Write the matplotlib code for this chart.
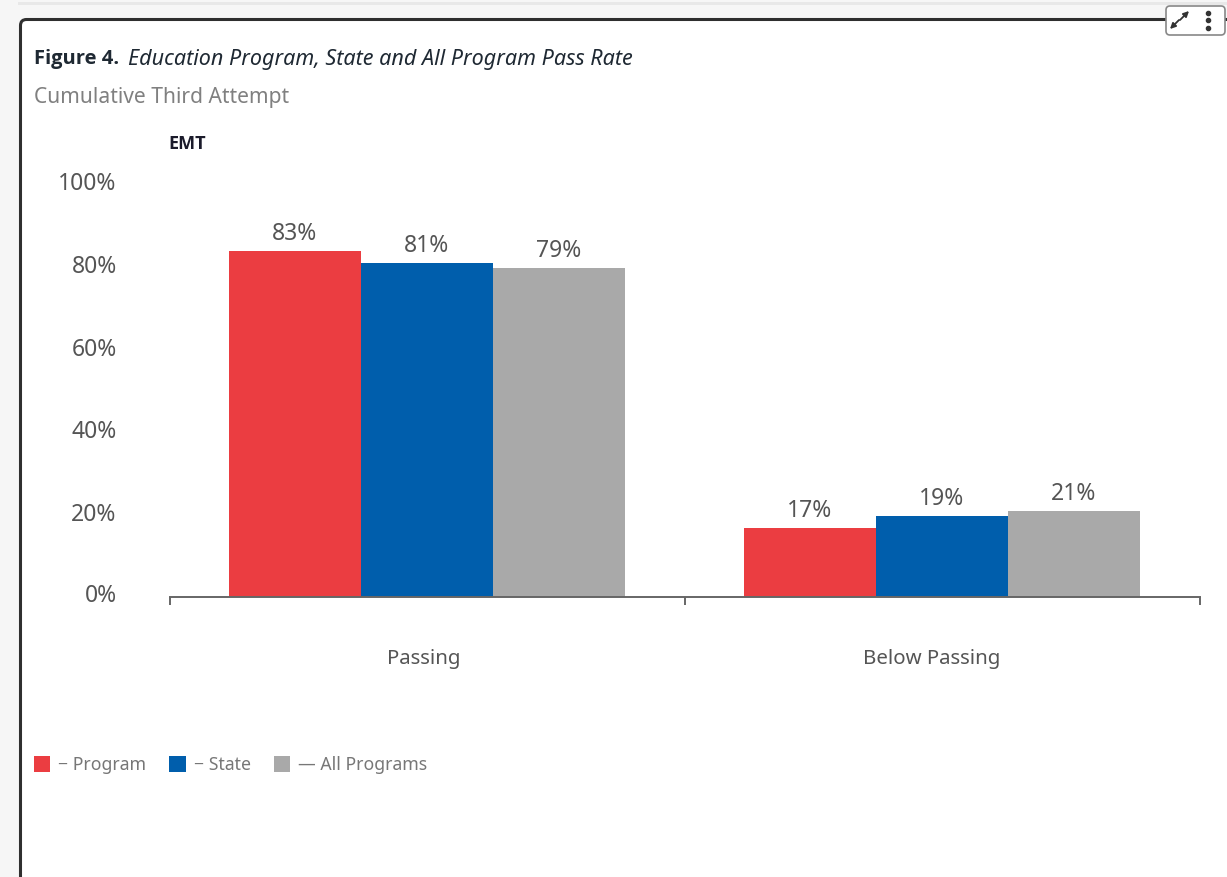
import matplotlib
matplotlib.use("Agg")
import matplotlib.pyplot as plt
from matplotlib.patches import FancyBboxPatch, Rectangle, Patch
from matplotlib.transforms import ScaledTranslation
import numpy as np

categories = ["Passing", "Below Passing"]
series_names = ["− Program", "− State", "— All Programs"]
program = [83.4, 16.6]
state = [80.5, 19.5]
all_programs = [79.3, 20.7]
program_labels = ["83%", "17%"]
state_labels = ["81%", "19%"]
all_labels = ["79%", "21%"]
y_ticks = [0, 20, 40, 60, 80, 100]
y_tick_labels = ["0%", "20%", "40%", "60%", "80%", "100%"]

W, H = 1227, 877
plt.rcParams["font.family"] = ["Noto Sans", "DejaVu Sans"]
fig = plt.figure(figsize=(W / 100, H / 100), dpi=100, facecolor="#f6f6f6")

def fx(x): return x / W
def fy(y): return 1 - y / H

# page furniture
fig.add_artist(Rectangle((fx(18), fy(5)), fx(1209), 3 / H, transform=fig.transFigure,
                         facecolor="#e8e8e8", edgecolor="none", zorder=-2))
fig.add_artist(FancyBboxPatch((20.5, H - 900), 1240, 900 - 19.5, boxstyle="round,pad=0,rounding_size=6",
                              transform=None, facecolor="white", edgecolor="#2f2f2f", linewidth=2.2, zorder=-1))

ax = fig.add_axes([fx(170), fy(597), fx(1030), (597 - 182) / H])
ax.patch.set_alpha(0)
x = np.arange(len(categories))
w = 132 / 515
colors = ["#EB3D41", "#005EAC", "#A9A9A9"]
text_c = "#555555"
for off, vals, labs, c in zip([-1, 0, 1], [program, state, all_programs],
                              [program_labels, state_labels, all_labels], colors):
    b = ax.bar(x + off * w, vals, w, color=c, linewidth=0)
    ax.bar_label(b, labels=labs, padding=3.6, fontsize=16.5, color=text_c)

ax.set_xlim(-0.499, 1.501)
ax.set_ylim(0, 100)
for s in ("top", "left", "right"):
    ax.spines[s].set_visible(False)
ax.spines["bottom"].set_color("#666666")
ax.spines["bottom"].set_linewidth(1.4)
ax.set_xticks([-0.499, 0.501, 1.501], ["", "", ""])
ax.tick_params(axis="x", which="major", length=6, width=1.4, color="#666666")
ax.set_xticks(x, categories, minor=True)
ax.tick_params(axis="x", which="minor", length=0, pad=37.7, labelsize=14.7, labelcolor=text_c)
for lab, dx in zip(ax.get_xticklabels(minor=True), [-3, -10]):
    lab.set_transform(lab.get_transform() + ScaledTranslation(dx / 100, 0, fig.dpi_scale_trans))
ax.set_yticks(y_ticks, y_tick_labels)
ax.tick_params(axis="y", length=0, pad=38.4, labelsize=16.5, labelcolor=text_c)
for lab, dy in zip(ax.get_yticklabels(), [4, 2, 2, 1, 1, 1]):
    lab.set_transform(lab.get_transform() + ScaledTranslation(0, dy / 100, fig.dpi_scale_trans))

# titles
fig.text(fx(34), fy(59), "Figure 4.", fontsize=14.5, fontweight="bold", family="Open Sans", color="#1f2933", va="center")
fig.text(fx(128), fy(59), "Education Program, State and All Program Pass Rate", fontsize=15.5,
         fontstyle="italic", color="#1f2933", va="center")
fig.text(fx(34), fy(98), "Cumulative Third Attempt", fontsize=15.1, color="#808080", va="center")
fig.text(fx(187), fy(144), "EMT", fontsize=13, fontweight="bold", family="Open Sans", color="#1b1b2b", va="center", ha="center")

# legend
handles = [Patch(facecolor=c, edgecolor="none") for c in colors]
fig.legend(handles, series_names, loc="center left", bbox_to_anchor=(fx(34), fy(765)), ncol=3,
           frameon=False, fontsize=12.7, labelcolor="#777777", borderpad=0, borderaxespad=0,
           handlelength=0.92, handleheight=1.05, handletextpad=0.45, columnspacing=1.32)

# widget
fig.add_artist(FancyBboxPatch((1166, H - 35), 59, 29, boxstyle="round,pad=0,rounding_size=4", transform=None,
                              facecolor="white", edgecolor="#888888", linewidth=1.2, zorder=5))
ov = fig.add_axes([0, 0, 1, 1], zorder=6)
ov.set_xlim(0, W); ov.set_ylim(H, 0); ov.axis("off")
ov.annotate("", xy=(1189, 11), xytext=(1180, 20), arrowprops=dict(arrowstyle="-|>", color="#333333", lw=1.3, mutation_scale=8, shrinkA=0, shrinkB=0))
ov.annotate("", xy=(1170, 29), xytext=(1179, 20), arrowprops=dict(arrowstyle="-|>", color="#333333", lw=1.3, mutation_scale=8, shrinkA=0, shrinkB=0))
ov.plot([1208] * 3, [13, 20, 28], ls="none", marker="o", ms=3, color="#333333")

fig.savefig("out.png", dpi=100, facecolor=fig.get_facecolor())
